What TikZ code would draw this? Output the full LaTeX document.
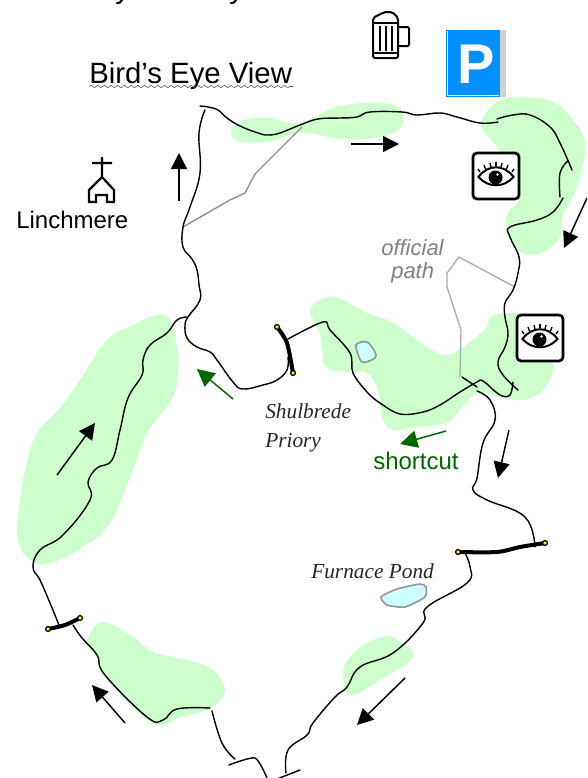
\documentclass[tikz,border=0pt]{standalone}
\usepackage{fontspec}
\setmainfont{Liberation Sans}
\newfontfamily\serifit{Liberation Serif}
\usetikzlibrary{arrows.meta,decorations.pathmorphing}
\definecolor{wood}{HTML}{CCFFCC}
\definecolor{pondblue}{HTML}{CCFFFF}
\definecolor{signblue}{HTML}{0090FF}
\definecolor{shortgreen}{HTML}{006600}
\tikzset{
  trail/.style={black,line width=1.05pt,line cap=round,line join=round},
  woodland/.style={fill=wood,draw=none},
  pondshape/.style={fill=pondblue,draw=black!42,line width=1.2pt},
  officialpath/.style={draw=black!45,line width=1pt,line join=round},
  roadbar/.style={black,line width=3pt,line cap=round},
  roadend/.style={circle,fill=yellow,draw=black,line width=1pt,inner sep=0pt,minimum size=3.6pt},
  dirarrow/.style={line width=1.1pt,-{Triangle[length=12pt,width=12pt]}},
  greenarrow/.style={draw=shortgreen,line width=1.1pt,-{Triangle[length=13pt,width=13pt,fill=shortgreen]}},
  txtlabel/.style={anchor=base west,inner sep=0pt},
  eyeicon/.pic={
    \draw[black,line width=2pt,rounded corners=3pt,fill=white] (-23,-23) rectangle (23,23);
    \draw[black,line width=1.5pt,fill=white] (-17.5,1) .. controls (-8,-12) and (8,-12) .. (17.5,1) .. controls (8,12) and (-8,12) .. (-17.5,1) -- cycle;
    \fill[black] (-0.5,1.5) circle (7);
    \fill[white] (1.5,-1.5) circle (1.3);
    \foreach \a/\b/\c/\d in {-18/-7/-16/-4,-12/-11/-10.5/-7,-6/-13/-5/-9,0/-14/0/-10,6/-13/5/-9,12/-11/10.5/-7,18/-7/16/-4}
      \draw[black,line width=1pt] (\a,\b) -- (\c,\d);
  }
}
\begin{document}
\begin{tikzpicture}[x=0.75pt,y=-0.75pt]
\useasboundingbox (0,0) rectangle (587,778);
\begin{scope}
\clip (0,0) rectangle (587,778);
% woods
\fill[woodland] plot[smooth cycle,tension=0.7] coordinates {(231,133)(241,121)(270,118)(300,123)(340,106)(390,104)(403,117)(397,131)(373,138)(340,139)(302,133)(267,142)(240,141)};
\fill[woodland] plot[smooth cycle,tension=0.7] coordinates {(483,117)(500,100)(520,97)(553,102)(573,120)(585,143)(580,177)(570,203)(562,217)(560,237)(543,252)(522,253)(507,233)(508,213)(520,197)(510,170)(497,147)(483,130)};
\fill[woodland] plot[smooth cycle,tension=0.65] coordinates {(310,310)(327,297)(343,300)(367,313)(393,323)(427,347)(445,355)(463,347)(487,327)(490,317)(513,313)(535,320)(553,363)(543,390)(523,400)(500,397)(477,393)(460,410)(447,423)(417,427)(393,430)(382,417)(378,390)(367,373)(350,372)(327,368)(322,350)(320,333)};
\fill[woodland] plot[smooth cycle,tension=0.7] coordinates {(157,315)(170,320)(177,347)(178,367)(173,397)(147,433)(133,470)(110,523)(83,547)(53,562)(33,562)(18,540)(20,500)(27,463)(37,433)(60,408)(80,380)(107,340)(133,325)};
\fill[woodland] plot[smooth cycle,tension=0.65] coordinates {(102,622)(133,637)(153,652)(187,660)(210,668)(223,683)(223,697)(207,710)(180,717)(163,725)(143,717)(103,675)(97,657)(87,643)};
\fill[woodland] plot[smooth cycle,tension=0.65] coordinates {(387,636)(397,640)(413,657)(380,680)(350,695)(343,673)(350,657)(367,643)};
% ponds
\draw[pondshape] plot[smooth cycle,tension=0.5] coordinates {(356,345)(367,342)(375,352)(375,358)(362,362)};
\draw[pondshape] plot[smooth cycle,tension=0.35] coordinates {(381,597)(397,589)(420,584)(426,587)(425,597)(405,607)(387,605)};
% official paths
\draw[officialpath] (183,227) -- (230,200) -- (245,193) -- (255,174) -- (302,127);
\draw[officialpath,draw=black!33] (515,287) -- (459,257) -- (447,273) -- (447,287) -- (461,330) -- (460,377);
% main trail
\draw[trail] plot[smooth,tension=0.7] coordinates {(200,106)(208,107)(218,110)(227,118)(240,126)(258,133)(268,135)(280,133)(300,125)(318,119)(340,118)(357,117)(370,112)(402,112)(417,115)(440,113)(457,117)(480,123)(498,122)};
\draw[trail] plot[smooth,tension=0.7] coordinates {(497,119)(513,115)(530,115)(550,127)(560,143)(572,170)};
\draw[trail] plot[smooth,tension=0.7] coordinates {(568,161)(560,173)(560,197)};
\draw[trail] plot[smooth,tension=0.7] coordinates {(563,198)(553,212)(537,220)(510,227)(510,237)(519,257)(518,273)(513,290)(505,303)(505,317)(508,333)(505,347)(498,362)(503,375)(518,390)};
\draw[trail] plot[smooth,tension=0.6] coordinates {(513,382)(510,395)(500,395)(483,381)(477,382)(460,392)(440,405)(423,412)(400,414)(380,403)(367,392)(353,373)(350,353)(330,330)(323,322)(288,339)};
\draw[trail] plot[smooth,tension=0.7] coordinates {(288,357)(287,370)(277,380)(263,385)(243,389)(233,382)(217,360)(210,352)(197,347)(187,338)(185,325)(188,317)(200,300)(199,285)(197,270)(192,259)(183,247)(183,227)(190,207)(200,173)(199,133)(205,110)};
\draw[trail] plot[smooth,tension=0.7] coordinates {(187,317)(177,320)(167,333)(150,345)(143,360)(142,375)(128,398)(120,430)(112,460)(97,468)(88,482)(90,500)(63,535)(40,550)(33,567)(40,580)(50,603)(59,625)};
\draw[trail] plot[smooth,tension=0.7] coordinates {(73,625)(82,638)(97,655)(105,675)(147,717)(163,720)(177,709)(210,708)};
\draw[trail] plot[smooth,tension=0.7] coordinates {(212,711)(222,743)(235,759)};
\draw[trail] plot[smooth,tension=0.4] coordinates {(229,765)(255,758)(267,778)};
\draw[trail] (300,770) -- (277,779);
\draw[trail] plot[smooth,tension=0.7] coordinates {(286,773)(288,750)(307,735)(313,723)(335,697)(347,687)(360,667)(393,653)(423,623)(427,607)(467,583)(470,567)(465,553)};
\draw[trail] plot[smooth,tension=0.7] coordinates {(535,547)(525,517)(487,500)(473,490)(477,478)(483,443)(495,420)(490,400)(477,391)};
\draw[trail] (462,377) -- (477,387);
% stiles / road bars
\draw[roadbar] plot[smooth,tension=0.5] coordinates {(277,327)(287,343)(293,373)};
\node[roadend] (sa) at (277,327) {};
\node[roadend] (sb) at (293,373) {};
\draw[roadbar] plot[smooth,tension=0.5] coordinates {(48,629)(65,625)(80,618)};
\node[roadend] (wa) at (48,629) {};
\node[roadend] (wb) at (80,618) {};
\draw[roadbar] plot[smooth,tension=0.5] coordinates {(458,552)(497,552)(520,547)(545,543)};
\node[roadend] (ea) at (458,552) {};
\node[roadend] (eb) at (545,543) {};
% arrows
\coordinate (a1s) at (351,144); \coordinate (a1e) at (399,144);
\draw[dirarrow] (a1s) -- (a1e);
\coordinate (a2s) at (179,201); \coordinate (a2e) at (179,153);
\draw[dirarrow] (a2s) -- (a2e);
\coordinate (a3s) at (587,198); \coordinate (a3e) at (564,248);
\draw[dirarrow] (a3s) -- (a3e);
\coordinate (a4s) at (57,475); \coordinate (a4e) at (95,423);
\draw[dirarrow] (a4s) -- (a4e);
\coordinate (a5s) at (125,723); \coordinate (a5e) at (92,685);
\draw[dirarrow] (a5s) -- (a5e);
\coordinate (a6s) at (405,678); \coordinate (a6e) at (357,725);
\draw[dirarrow] (a6s) -- (a6e);
\coordinate (a7s) at (509,430); \coordinate (a7e) at (498,478);
\draw[dirarrow] (a7s) -- (a7e);
\coordinate (g1s) at (233,399); \coordinate (g1e) at (197,369);
\draw[greenarrow] (g1s) -- (g1e);
\coordinate (g2s) at (446,431); \coordinate (g2e) at (400,444);
\draw[greenarrow] (g2s) -- (g2e);
% church
\draw[black,line width=1.6pt,line join=miter] (102,157) -- (102,177) (92,163) -- (112,163)
  (89,202) -- (89,190) -- (102,177) -- (114,190) -- (114,202) -- (107,202) -- (107,195) -- (96,195) -- (96,202) -- cycle;
% mug
\draw[black,line width=1.5pt,rounded corners=1.5pt] (373,58) -- (373,18) .. controls (380,14) and (385,12) .. (388,12) .. controls (392,12) and (395,14) .. (398,18) -- (398,58) -- cycle;
\draw[black,line width=1.5pt,rounded corners=1pt] (398,27) -- (409,27) -- (409,46) -- (398,46);
\draw[black,line width=1.2pt] (373,23) -- (398,23) (373,53) -- (398,53) (380,26) -- (380,51) (386,26) -- (386,51) (392,26) -- (392,51);
% parking
\fill[black!18] (500,30) rectangle (506,97);
\fill[signblue] (446,30) rectangle (500,97);
\draw[white,line width=0.6pt] (447.5,31) -- (447.5,95.5) -- (499,95.5);
\node[inner sep=0pt,anchor=base] (psign) at (476,83) {\fontsize{42}{42}\selectfont\bfseries\textcolor{white}{P}};
% eyes
\pic at (496,176) {eyeicon};
\pic at (540,338) {eyeicon};
% title and labels
\node[txtlabel] (topa) at (115,-2) {\fontsize{22}{22}\selectfont y};
\node[txtlabel] (topb) at (229,-2) {\fontsize{22}{22}\selectfont y};
\node[txtlabel] (title) at (89,83) {\fontsize{22}{22}\selectfont Bird’s Eye View};
\draw[black!70,line width=0.4pt,decorate,decoration={snake,amplitude=0.9,segment length=5}] (89,86.5) -- (293,86.5);
\node[txtlabel] (linch) at (16,228) {\fontsize{18}{18}\selectfont Linchmere};
\node[txtlabel,text=black!50] (off1) at (381,255) {\fontsize{16.5}{16.5}\selectfont\itshape official};
\node[txtlabel,text=black!50] (off2) at (391,278) {\fontsize{16.5}{16.5}\selectfont\itshape path};
\node[txtlabel,text=black!85] (shul) at (265,418) {\fontsize{16}{16}\selectfont\serifit\itshape Shulbrede};
\node[txtlabel,text=black!85] (prio) at (265,447) {\fontsize{16}{16}\selectfont\serifit\itshape Priory};
\node[txtlabel,text=shortgreen] (short) at (373,469) {\fontsize{18}{18}\selectfont shortcut};
\node[txtlabel,text=black!85] (furn) at (311,578) {\fontsize{16}{16}\selectfont\serifit\itshape Furnace Pond};
\end{scope}
\end{tikzpicture}
\end{document}
